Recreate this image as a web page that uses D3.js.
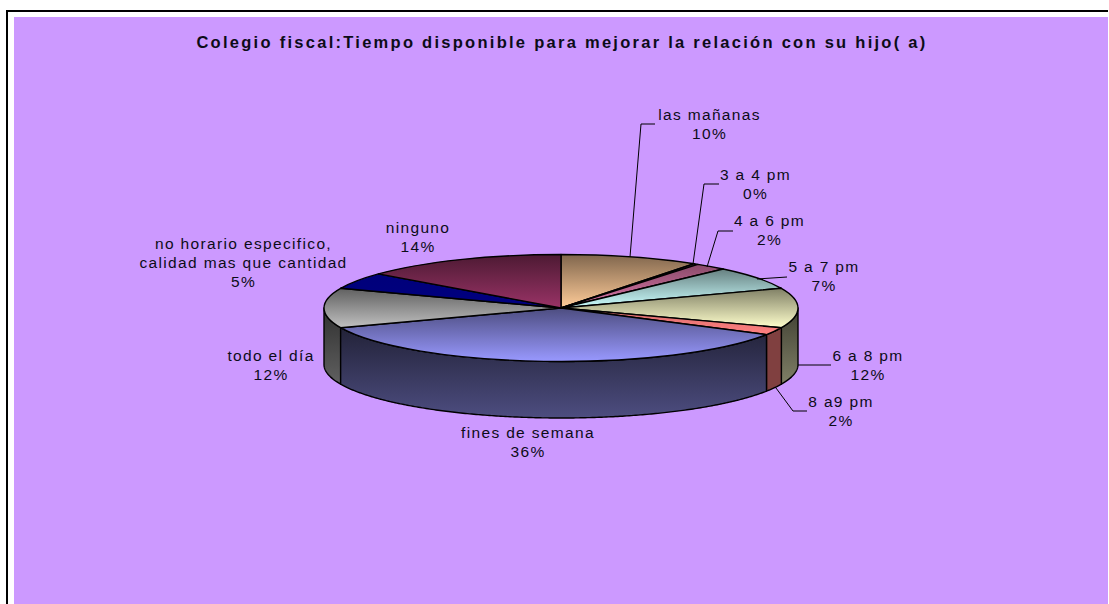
<!DOCTYPE html>
<html>
<head>
<meta charset="utf-8">
<script src="https://cdnjs.cloudflare.com/ajax/libs/d3/7.8.5/d3.min.js"></script>
<style>
html,body{margin:0;padding:0;background:#fff;overflow:hidden}
svg{display:block}
text{font-family:"Liberation Sans",Arial,sans-serif;fill:#0c0c18}
</style>
</head>
<body>
<svg id="chart" width="1109" height="604"></svg>
<script>
// ---- data ----
const titleText = "Colegio fiscal:Tiempo disponible para mejorar la relación con su hijo( a)";
const categories = ["las mañanas","3 a 4 pm","4 a 6 pm","5 a 7 pm","6 a 8 pm","8 a9 pm","fines de semana","todo el día","no horario especifico,\ncalidad mas que cantidad","ninguno"];
const percentValues = [9.5,0.3,2.2,7,12,2.3,35.7,12,5,14];

// ---- style and layout ----
const sliceColors = ["#FFCC99","#DD77AA","#DD77AA","#CCFFFF","#FFFFCC","#FF8080","#9999FF","#C0C0C0","#000080","#993366"];
const topShade = [0.5,0.62,0.62,0.5,0.5,0.85,0.5,0.5,0.95,0.5];
const wallTopShade = [1,1,1,1,0.25,0.5,0.22,0.25,1,1];
const wallBottomShade = [0.5,0.5,0.5,0.5,0.5,0.5,0.5,0.5,0.5,0.5];
const labelCenterX = [709.5,755.5,769.5,824,868,841,528,271,243.5,418];
const labelFirstBaseline = [120,180,226,272,361,407,438,361,249,233];
const leaderPaths = [
  [[630,257],[641,124],[655,124]],
  [[693,264],[704,184],[719,184]],
  [[707,267],[718,231],[733,231]],
  [[757,279],[787,277]],
  [[798,365],[831,365]],
  [[776,388],[793,411],[807,411]],
  null,null,null,null
];
const W = 1109, H = 604;
const cx = 561, cy = 308, rx = 237, ry = 53.5, depth = 56.5;

const svg = d3.select("#chart");
const defs = svg.append("defs");

// frame and plot area
svg.append("rect").attr("x",14).attr("y",17).attr("width",W-15).attr("height",H-17).attr("fill","#CC99FF");
svg.append("path").attr("d",d3.line()([[7,H],[7,11],[W-1,11]])).attr("fill","none").attr("stroke","#000").attr("stroke-width",2);

// title
svg.append("text").attr("x",562).attr("y",48).attr("text-anchor","middle")
  .attr("font-size",16.5).attr("font-weight","bold").attr("letter-spacing",2.27).text(titleText);

// scale helpers
const shade = (c,f)=>{const r=d3.rgb(c);return d3.rgb(r.r*f,r.g*f,r.b*f).formatHex();};
const ex = d3.scaleLinear().domain([-1,1]).range([cx-rx,cx+rx]);
const ey = d3.scaleLinear().domain([-1,1]).range([cy-ry,cy+ry]);

function makeGrad(id,c0,c1){
  const g = defs.append("linearGradient").attr("id",id).attr("x1",0).attr("y1",0).attr("x2",0).attr("y2",1);
  g.append("stop").attr("offset","0%").attr("stop-color",c0);
  g.append("stop").attr("offset","100%").attr("stop-color",c1);
}

const pie = d3.pie().sort(null).value(d=>d).startAngle(0).endAngle(2*Math.PI);
const arcs = pie(percentValues);
const arc = d3.arc().innerRadius(0).outerRadius(rx);

// side walls: front half only (angles between PI/2 and 3PI/2)
const wallLayer = svg.append("g");
const line = d3.line();
const wallOrder = arcs.map((a,i)=>({a,i}))
  .filter(d=>d.a.endAngle>Math.PI/2 && d.a.startAngle<3*Math.PI/2 && d.a.endAngle>d.a.startAngle)
  .sort((p,q)=>Math.abs(((p.a.startAngle+p.a.endAngle)/2)-Math.PI)-Math.abs(((q.a.startAngle+q.a.endAngle)/2)-Math.PI))
  .reverse();
wallOrder.forEach(({a,i})=>{
  const s=Math.max(a.startAngle,Math.PI/2), e=Math.min(a.endAngle,3*Math.PI/2);
  const n=Math.max(2,Math.ceil((e-s)/0.01));
  const ang=d3.range(n+1).map(k=>s+(e-s)*k/n);
  const top=ang.map(t=>[ex(Math.sin(t)),ey(-Math.cos(t))]);
  const bot=ang.slice().reverse().map(t=>[ex(Math.sin(t)),ey(-Math.cos(t))+depth]);
  makeGrad("w"+i,shade(sliceColors[i],wallTopShade[i]),shade(sliceColors[i],wallBottomShade[i]));
  wallLayer.append("path").attr("d",line(top.concat(bot))+"Z")
    .attr("fill",`url(#w${i})`).attr("stroke","#000").attr("stroke-width",1.4).attr("stroke-linejoin","round");
});

// top surface
const topLayer = svg.append("g").attr("transform",`translate(${cx},${cy}) scale(1,${ry/rx})`);
topLayer.selectAll("path").data(arcs.filter(a=>a.endAngle>a.startAngle)).join("path")
  .each(function(a){ makeGrad("t"+a.index,shade(sliceColors[a.index],topShade[a.index]),sliceColors[a.index]); })
  .attr("d",arc)
  .attr("fill",a=>`url(#t${a.index})`)
  .attr("stroke","#000").attr("stroke-width",1.4).attr("stroke-linejoin","round")
  .attr("vector-effect","non-scaling-stroke");

// leaders
svg.append("g").selectAll("path").data(leaderPaths.filter(Boolean)).join("path")
  .attr("d",d=>line(d)).attr("fill","none").attr("stroke","#000").attr("stroke-width",1);

// labels
const labels = svg.append("g").attr("font-size",15.5).attr("letter-spacing",1.35).attr("text-anchor","middle");
categories.forEach((c,i)=>{
  const lines = c.split("\n").concat([Math.round(percentValues[i])+"%"]);
  const t = labels.append("text");
  lines.forEach((l,k)=>{
    t.append("tspan").attr("x",labelCenterX[i]).attr("y",labelFirstBaseline[i]+k*19.2).text(l);
  });
});
</script>
</body>
</html>
